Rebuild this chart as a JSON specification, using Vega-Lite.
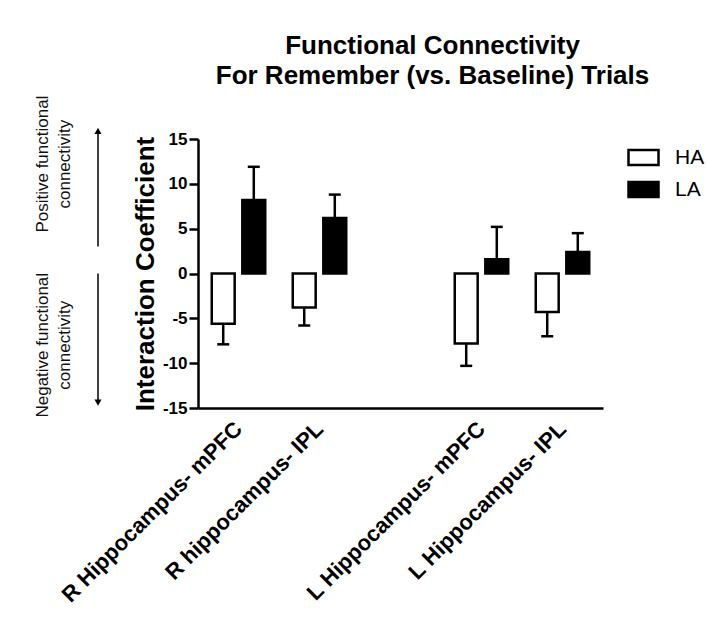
{
  "$schema": "https://vega.github.io/schema/vega-lite/v6.json",
  "padding": {"top": 32, "left": 33, "right": 0, "bottom": 5},
  "background": "white",
  "title": {
    "text": ["Functional Connectivity", "For Remember (vs. Baseline) Trials"],
    "fontSize": 26,
    "font": "Liberation Sans",
    "fontWeight": "bold",
    "color": "black",
    "anchor": "middle",
    "dx": 62,
    "offset": 7,
    "lineHeight": 30
  },
  "datasets": {
    "bars": [
      {"region": "R Hippocampus- mPFC", "group": "HA", "value": -5.6, "err_end": -7.9},
      {"region": "R Hippocampus- mPFC", "group": "LA", "value": 8.2, "err_end": 11.9},
      {"region": "R hippocampus- IPL", "group": "HA", "value": -3.8, "err_end": -5.8},
      {"region": "R hippocampus- IPL", "group": "LA", "value": 6.2, "err_end": 8.8},
      {"region": "L Hippocampus- mPFC", "group": "HA", "value": -7.8, "err_end": -10.3},
      {"region": "L Hippocampus- mPFC", "group": "LA", "value": 1.6, "err_end": 5.2},
      {"region": "L Hippocampus- IPL", "group": "HA", "value": -4.3, "err_end": -7.0},
      {"region": "L Hippocampus- IPL", "group": "LA", "value": 2.4, "err_end": 4.5}
    ],
    "notes": [
      {"label": "Positive functional\nconnectivity", "mid": 12.2, "start": 3.0, "head": 15.9, "dir": "up"},
      {"label": "Negative functional\nconnectivity", "mid": -8.0, "start": 0, "head": -14.4, "dir": "down"}
    ]
  },
  "bounds": "flush",
  "spacing": 100,
  "hconcat": [
    {
      "width": 55,
      "height": 269,
      "data": {"name": "notes"},
      "layer": [
        {
          "mark": {"type": "text", "angle": 270, "fontSize": 17, "lineHeight": 22, "lineBreak": "\n", "align": "center", "baseline": "middle", "color": "#111111", "font": "Liberation Sans"},
          "encoding": {
            "x": {"datum": "text", "type": "nominal", "scale": {"type": "point", "domain": ["text", "arrow"], "padding": 0}, "axis": null},
            "y": {"field": "mid", "type": "quantitative", "scale": {"domain": [-15, 15], "nice": false}, "axis": null},
            "text": {"field": "label"}
          }
        },
        {
          "mark": {"type": "rule", "strokeWidth": 1.5, "color": "black"},
          "encoding": {
            "x": {"datum": "arrow", "type": "nominal"},
            "y": {"field": "start", "type": "quantitative"},
            "y2": {"field": "head"}
          }
        },
        {
          "mark": {"type": "point", "filled": true, "size": 50, "color": "black", "opacity": 1},
          "encoding": {
            "x": {"datum": "arrow", "type": "nominal"},
            "y": {"field": "head", "type": "quantitative"},
            "shape": {"field": "dir", "type": "nominal", "scale": {"domain": ["up", "down"], "range": ["triangle-up", "triangle-down"]}, "legend": null}
          }
        }
      ]
    },
    {
      "width": 405,
      "height": 269,
      "data": {"name": "bars"},
      "encoding": {
        "x": {
          "field": "region",
          "type": "nominal",
          "sort": null,
          "scale": {"domain": ["R Hippocampus- mPFC", "R hippocampus- IPL", " ", "L Hippocampus- mPFC", "L Hippocampus- IPL"], "paddingInner": 0, "paddingOuter": 0},
          "axis": {"title": null, "labelAngle": -45, "labelFontSize": 22, "labelFontWeight": "bold", "labelFont": "Liberation Sans", "labelColor": "black", "ticks": false, "domainWidth": 2.5, "domainColor": "black", "labelPadding": 10, "labelOffset": -7, "labelOverlap": false, "labelLimit": 400}
        },
        "xOffset": {"field": "group", "type": "nominal", "scale": {"domain": ["HA", "LA"], "paddingInner": 0.25, "paddingOuter": 0.45}}
      },
      "layer": [
        {
          "mark": {"type": "rule", "strokeWidth": 2.5, "color": "black"},
          "encoding": {
            "y": {
              "field": "value",
              "type": "quantitative",
              "scale": {"domain": [-15, 15], "nice": false, "zero": false},
              "axis": {
                "values": [-15, -10, -5, 0, 5, 10, 15],
                "labelExpr": "datum.value + ''",
                "title": "Interaction Coefficient",
                "titleFontSize": 26,
                "titleFontWeight": "bold",
                "titleFont": "Liberation Sans",
                "titleColor": "black",
                "labelFontSize": 17,
                "labelFontWeight": "bold",
                "labelFont": "Liberation Sans",
                "labelColor": "black",
                "tickSize": 9,
                "tickWidth": 2.5,
                "tickColor": "black",
                "domainWidth": 2.5,
                "domainColor": "black",
                "grid": false,
                "labelPadding": 2,
                "titlePadding": 4
              }
            },
            "y2": {"field": "err_end"}
          }
        },
        {
          "mark": {"type": "tick", "thickness": 2.5, "size": 12, "color": "black", "opacity": 1},
          "encoding": {
            "y": {"field": "err_end", "type": "quantitative"}
          }
        },
        {
          "mark": {"type": "bar", "stroke": "black", "strokeWidth": 2.5, "opacity": 1},
          "encoding": {
            "y": {"field": "value", "type": "quantitative"},
            "fill": {
              "field": "group",
              "type": "nominal",
              "scale": {"domain": ["HA", "LA"], "range": ["white", "black"]},
              "legend": {
                "title": null,
                "orient": "right",
                "symbolType": "M-1,-0.5H1V0.5H-1Z",
                "symbolSize": 900,
                "symbolStrokeColor": "black",
                "symbolStrokeWidth": 2.5,
                "labelFontSize": 21,
                "labelFont": "Liberation Sans",
                "labelColor": "black",
                "labelOffset": 15,
                "rowPadding": 3,
                "offset": 22,
                "padding": 2
              }
            }
          }
        },
        {
          "data": {"values": [{}]},
          "mark": {"type": "rule", "strokeWidth": 2.5, "color": "black"},
          "encoding": {"y": {"datum": 0, "type": "quantitative"}}
        }
      ]
    }
  ],
  "config": {
    "view": {"stroke": null},
    "font": "Liberation Sans"
  }
}
